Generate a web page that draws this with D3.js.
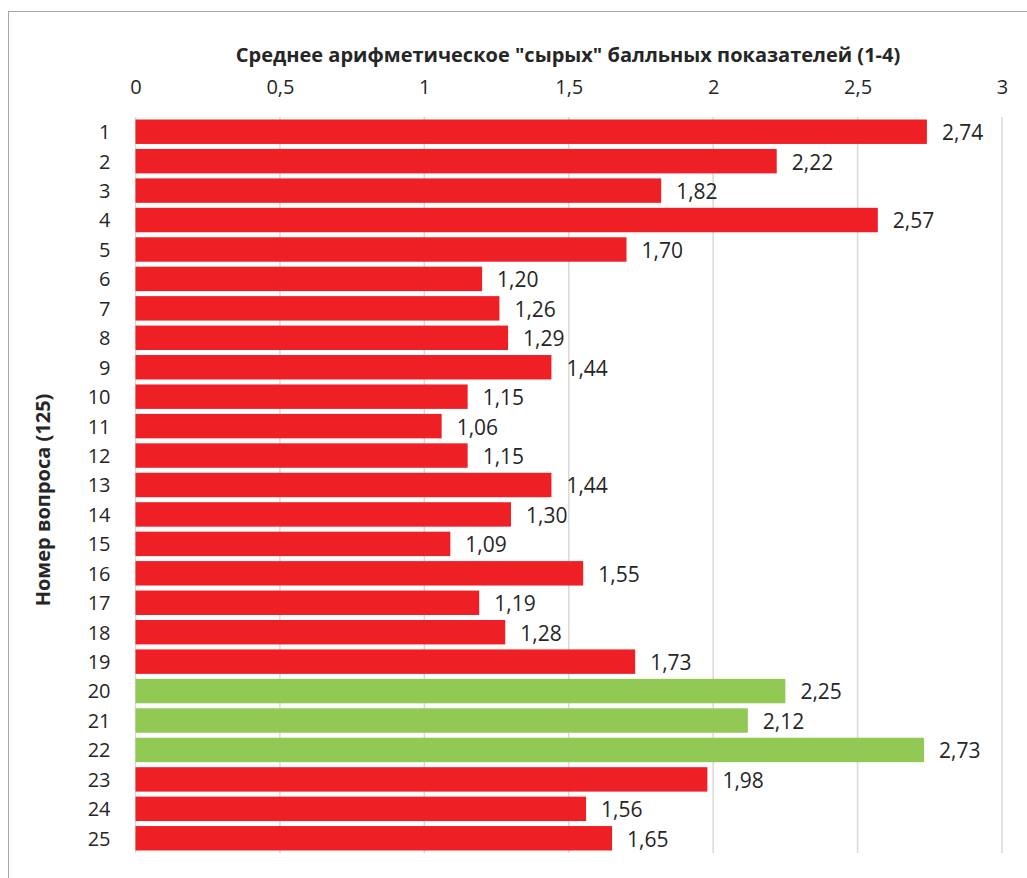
<!DOCTYPE html>
<html>
<head>
<meta charset="utf-8">
<script src="https://cdn.jsdelivr.net/npm/d3@7"></script>
<style>
  html, body { margin: 0; padding: 0; background: #fff; }
  svg { display: block; font-family: "Open Sans", "Noto Sans", sans-serif; }
</style>
</head>
<body>
<svg id="chart" width="1027" height="878"></svg>
<script>
// Question numbers, mean raw scores and the bar group each question belongs to
const questions = ["1","2","3","4","5","6","7","8","9","10","11","12","13","14","15","16","17","18","19","20","21","22","23","24","25"];
const means = [2.74, 2.22, 1.82, 2.57, 1.70, 1.20, 1.26, 1.29, 1.44, 1.15, 1.06, 1.15, 1.44, 1.30, 1.09, 1.55, 1.19, 1.28, 1.73, 2.25, 2.12, 2.73, 1.98, 1.56, 1.65];
const groups = ["a","a","a","a","a","a","a","a","a","a","a","a","a","a","a","a","a","a","a","b","b","b","a","a","a"];
const xTicks = [0, 0.5, 1, 1.5, 2, 2.5, 3];
const xTitle = "Среднее арифметическое \"сырых\" балльных показателей (1-4)";
const yTitle = "Номер вопроса (125)";

const rows = questions.map((q, i) => ({ q, v: means[i], g: groups[i] }));
const colors = { a: "#ee1f25", b: "#92c954" };

const svg = d3.select("#chart");
const plot = { left: 135.5, right: 1002, top: 117, bottom: 853 };

// chart frame
svg.append("rect")
  .attr("x", 8.5).attr("y", 11.5)
  .attr("width", 1030).attr("height", 880)
  .attr("fill", "none").attr("stroke", "#a6a6a6").attr("stroke-width", 1);

const x = d3.scaleLinear().domain([0, 3]).range([plot.left, plot.right]);
const y = d3.scaleBand().domain(questions).range([plot.top, plot.bottom]).paddingInner(0.17).paddingOuter(0.085);

const fmt = v => String(v).replace(".", ",");
const fmt2 = v => v.toFixed(2).replace(".", ",");

// vertical gridlines
svg.append("g")
  .selectAll("line")
  .data(xTicks)
  .join("line")
  .attr("x1", d => x(d)).attr("x2", d => x(d))
  .attr("y1", plot.top).attr("y2", plot.bottom)
  .attr("stroke", "#d9d9d9").attr("stroke-width", 1.5);

// top value axis
const xAxis = svg.append("g")
  .attr("transform", `translate(0,${plot.top})`)
  .call(d3.axisTop(x).tickValues(xTicks).tickFormat(fmt).tickSize(0).tickPadding(23));
xAxis.select(".domain").remove();
xAxis.selectAll("text")
  .attr("font-size", 20).attr("fill", "#262626")
  .attr("font-family", "\"Open Sans\", sans-serif");

// category axis
const yAxis = svg.append("g")
  .attr("transform", `translate(${plot.left},0)`)
  .call(d3.axisLeft(y).tickSize(0).tickPadding(25));
yAxis.select(".domain").remove();
yAxis.selectAll("text")
  .attr("font-size", 20).attr("fill", "#262626")
  .attr("font-family", "\"Open Sans\", sans-serif")
  .attr("dy", "0.37em");

// bars
svg.append("g")
  .selectAll("rect")
  .data(rows)
  .join("rect")
  .attr("x", x(0))
  .attr("y", d => y(d.q))
  .attr("width", d => x(d.v) - x(0))
  .attr("height", y.bandwidth())
  .attr("fill", d => colors[d.g]);

// value labels
svg.append("g")
  .selectAll("text")
  .data(rows)
  .join("text")
  .attr("x", d => x(d.v) + 15)
  .attr("y", d => y(d.q) + y.bandwidth() / 2)
  .attr("dy", "0.4em")
  .attr("font-size", 21).attr("fill", "#262626")
  .text(d => fmt2(d.v));

// axis titles
svg.append("text")
  .attr("x", 568).attr("y", 62)
  .attr("text-anchor", "middle")
  .attr("font-size", 20).attr("font-weight", "bold").attr("fill", "#262626")
  .text(xTitle);

svg.append("text")
  .attr("transform", "translate(50,500) rotate(-90)")
  .attr("text-anchor", "middle")
  .attr("font-size", 20).attr("font-weight", "bold").attr("fill", "#262626")
  .text(yTitle);
</script>
</body>
</html>
